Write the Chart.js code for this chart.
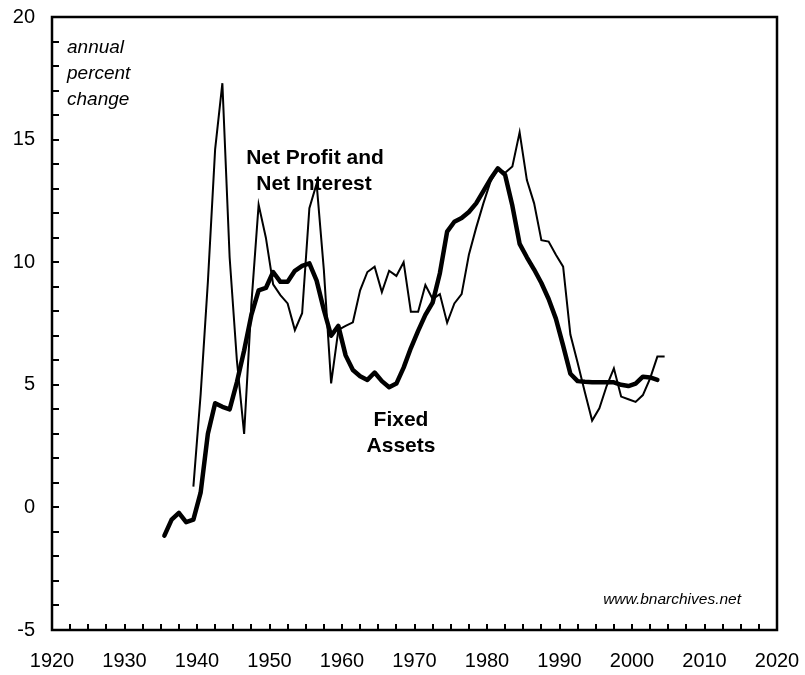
<!DOCTYPE html>
<html><head><meta charset="utf-8">
<script src="https://cdn.jsdelivr.net/npm/chart.js@4.4.0/dist/chart.umd.min.js"></script>
<style>html,body{margin:0;padding:0;background:#fff}#wrap{width:805px;height:675px;position:relative}</style>
</head><body><div id="wrap"><canvas id="c" width="805" height="675"></canvas></div>
<script>
// Fixed Assets (thick line), annual percent change
const fixedYears = [1935,1936,1937,1938,1939,1940,1941,1942,1943,1944,1945,1946,1947,1948,1949,
  1950,1951,1952,1953,1954,1955,1956,1957,1958,1959,1960,1961,1962,1963,1964,1965,1966,1967,1968,1969,
  1970,1971,1972,1973,1974,1975,1976,1977,1978,1979,1980,1981,1982,1983,1984,1985,1986,1987,1988,1989,
  1990,1991,1992,1993,1994,1995,1996,1997,1998,1999,2000,2001,2002,2003];
const fixedValues = [-1.15,-0.5,-0.22,-0.6,-0.5,0.6,3.0,4.25,4.1,4.0,5.1,6.4,7.85,8.85,8.95,
  9.6,9.2,9.2,9.65,9.85,9.95,9.25,8.05,7.0,7.4,6.2,5.6,5.35,5.2,5.5,5.15,4.9,5.05,5.7,6.5,
  7.2,7.85,8.35,9.55,11.25,11.65,11.8,12.05,12.4,12.9,13.4,13.83,13.56,12.3,10.75,10.2,9.7,9.15,8.5,7.7,
  6.6,5.45,5.15,5.12,5.1,5.1,5.1,5.1,5.0,4.95,5.05,5.33,5.3,5.2];

// Net Profit and Net Interest (thin line)
const profitYears = [1939,1940,1941,1942,1943,1944,1945,1946,1947,1948,1949,
  1950,1951,1952,1953,1954,1955,1956,1957,1958,1959,1960,1961,1962,1963,1964,1965,1966,1967,1968,1969,
  1970,1971,1972,1973,1974,1975,1976,1977,1978,1979,1980,1981,1982,1983,1984,1985,1986,1987,1988,1989,
  1990,1991,1992,1993,1994,1995,1996,1997,1998,1999,2000,2001,2002,2003,2004];
const profitValues = [0.85,4.6,9.2,14.6,17.3,10.2,6.0,3.0,8.3,12.35,11.0,
  9.1,8.66,8.32,7.23,7.92,12.2,13.2,9.68,5.06,7.24,7.4,7.55,8.85,9.6,9.82,8.78,9.65,9.44,10.0,7.98,
  7.98,9.07,8.5,8.7,7.53,8.32,8.7,10.3,11.4,12.4,13.3,13.8,13.65,13.9,15.3,13.35,12.4,10.9,10.84,10.3,
  9.82,7.05,5.9,4.7,3.54,4.04,4.95,5.67,4.52,4.41,4.3,4.58,5.26,6.15,6.15];

const xMin = 1920, xMax = 2020, xMajor = 10, xMinor = 2.5;
const yMin = -5, yMax = 20, yMajor = 5, yMinor = 1;

const FONT = "'Liberation Sans', Arial, Helvetica, sans-serif";

function pts(years, vals){ return years.map((yr,i)=>({x: yr + 0.5, y: vals[i]})); }

const framePlugin = {
  id: 'frame',
  afterDraw(chart){
    const ctx = chart.ctx, a = chart.chartArea;
    const xs = chart.scales.x, ys = chart.scales.y;
    ctx.save();
    ctx.strokeStyle = '#000';
    ctx.lineWidth = 2;
    ctx.beginPath();
    xs.ticks.forEach(t => {
      const px = Math.round(xs.getPixelForValue(t.value));
      if (t.value <= xMin || t.value >= xMax) return;
      ctx.moveTo(px, a.bottom); ctx.lineTo(px, a.bottom - 6);
    });
    ys.ticks.forEach(t => {
      const py = Math.round(ys.getPixelForValue(t.value));
      if (t.value <= yMin || t.value >= yMax) return;
      ctx.moveTo(a.left, py); ctx.lineTo(a.left + 7, py);
    });
    ctx.stroke();
    ctx.lineWidth = 2.5;
    ctx.strokeRect(a.left, a.top, a.right - a.left, a.bottom - a.top);
    ctx.fillStyle = '#000';
    ctx.textBaseline = 'middle';
    ctx.font = 'italic 19px ' + FONT;
    ctx.textAlign = 'left';
    ctx.fillText('annual', a.left + 15, 48);
    ctx.fillText('percent', a.left + 15, 74);
    ctx.fillText('change', a.left + 15, 100);
    ctx.font = 'bold 21px ' + FONT;
    ctx.textAlign = 'center';
    ctx.fillText('Net Profit and', 315, 158);
    ctx.fillText('Net Interest', 314, 184);
    ctx.fillText('Fixed', 401, 420);
    ctx.fillText('Assets', 401, 446);
    ctx.font = 'italic 15.5px ' + FONT;
    ctx.textAlign = 'right';
    ctx.fillText('www.bnarchives.net', 741, 600);
    ctx.restore();
  }
};

function zeroPad(s){ s.paddingTop = 0; s.paddingBottom = 0; s.paddingLeft = 0; s.paddingRight = 0; }

new Chart(document.getElementById('c'), {
  type: 'line',
  data: {
    datasets: [
      { label: 'Fixed Assets', data: pts(fixedYears, fixedValues), borderColor: '#000', borderWidth: 4.5,
        pointRadius: 0, tension: 0, borderJoinStyle: 'round', borderCapStyle: 'round', fill: false },
      { label: 'Net Profit and Net Interest', data: pts(profitYears, profitValues), borderColor: '#000', borderWidth: 2,
        pointRadius: 0, tension: 0, borderJoinStyle: 'miter', borderCapStyle: 'butt', fill: false }
    ]
  },
  options: {
    responsive: false,
    animation: false,
    layout: { padding: { top: 17, right: 28, left: 0, bottom: 0 } },
    plugins: { legend: { display: false }, tooltip: { enabled: false } },
    scales: {
      x: {
        type: 'linear', min: xMin, max: xMax,
        grid: { display: false, drawTicks: false }, border: { display: false },
        ticks: {
          stepSize: xMinor, autoSkip: false, maxRotation: 0, minRotation: 0,
          color: '#000', font: { family: FONT, size: 20 }, padding: 19,
          callback: v => (Math.abs(v % xMajor) < 1e-6 ? String(Math.round(v)) : '')
        },
        afterFit: s => { s.height = 45; zeroPad(s); }
      },
      y: {
        min: yMin, max: yMax,
        grid: { display: false, drawTicks: false }, border: { display: false },
        ticks: {
          stepSize: yMinor, autoSkip: false,
          color: '#000', font: { family: FONT, size: 20 }, padding: 17,
          callback: v => (Math.abs(v % yMajor) < 1e-6 ? String(Math.round(v)) : '')
        },
        afterFit: s => { s.width = 52; zeroPad(s); }
      }
    }
  },
  plugins: [framePlugin]
});
</script>
</body></html>
